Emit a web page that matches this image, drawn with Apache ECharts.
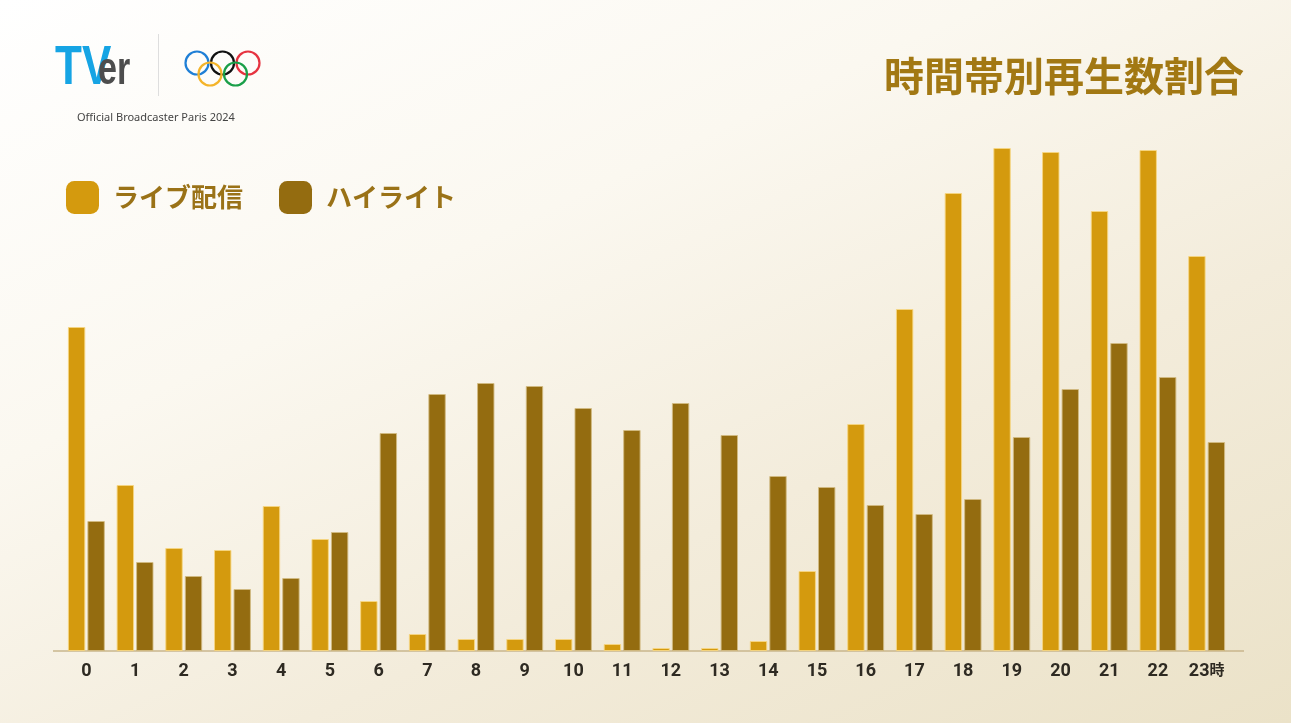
<!DOCTYPE html>
<html><head><meta charset="utf-8">
<script src="https://cdn.jsdelivr.net/npm/echarts@6/dist/echarts.min.js"></script>
<style>
html,body{margin:0;padding:0;width:1291px;height:723px;overflow:hidden;}
#c{width:1291px;height:723px;background:linear-gradient(155deg,#ffffff 0%,#fbf8f0 35%,#f3ecdb 65%,#ebe2c8 100%);}
</style></head>
<body><div id="c"></div>
<script>
const hours = ['0','1','2','3','4','5','6','7','8','9','10','11','12','13','14','15','16','17','18','19','20','21','22','23'];
const hourSuffix = '時';
const seriesNames = ['ライブ配信','ハイライト'];
const liveShare = [324,166,103,101,145,112,50,17,12,12,12,7,3,3,10,80,227,342,458,503,499,440,501,395];
const highlightShare = [130,89,75,62,73,119,218,257,268,265,243,221,248,216,175,164,146,137,152,214,262,308,274,209];
const titleText = '時間帯別再生数割合';
const subText = 'Official Broadcaster Paris 2024';

const chart = echarts.init(document.getElementById('c'), null, {renderer:'canvas'});
const cjk = '"Noto Sans CJK JP","Noto Sans",sans-serif';
const ringR = 11.5;
const rings = [
  {cx:197, cy:63, c:'#1f7fd6'},
  {cx:222.5, cy:63, c:'#111111'},
  {cx:248, cy:63, c:'#e63340'},
  {cx:210, cy:74, c:'#f4b42a'},
  {cx:235.5, cy:74, c:'#1a9f49'}
];
chart.setOption({
  backgroundColor:'transparent',
  animation:false,
  title:{text:titleText,right:42,top:51,textStyle:{fontFamily:cjk,fontSize:40,fontWeight:'bold',color:'#a27813'}},
  legend:{
    data:seriesNames,left:66,top:181,padding:0,icon:'roundRect',itemWidth:33,itemHeight:33,itemGap:36,
    itemStyle:{borderWidth:0},
    textStyle:{fontFamily:cjk,fontSize:26,fontWeight:'bold',color:'#9a7217',padding:[0,0,0,9]}
  },
  grid:{left:62,right:60,top:51,bottom:72},
  xAxis:{
    type:'category',data:hours,
    axisLine:{show:false},axisTick:{show:false},
    axisLabel:{
      interval:0,margin:11,
      formatter:(v,i)=> i===hours.length-1 ? '{n|'+v+'}{s|'+hourSuffix+'}' : '{n|'+v+'}',
      rich:{
        n:{fontFamily:'Roboto,"Noto Sans",sans-serif',fontSize:18,fontWeight:'bold',color:'#2e2a22'},
        s:{fontFamily:cjk,fontSize:15,fontWeight:'bold',color:'#2e2a22',padding:[0,0,4,0]}
      }
    }
  },
  yAxis:{type:'value',min:0,max:600,show:false,splitLine:{show:false}},
  series:[
    {name:seriesNames[0],type:'bar',data:liveShare,barWidth:17.4,barGap:'12%',
     itemStyle:{color:'#d49a0e',borderColor:'rgba(246,214,130,0.9)',borderWidth:1}},
    {name:seriesNames[1],type:'bar',data:highlightShare,barWidth:17.4,barGap:'12%',
     itemStyle:{color:'#946c10',borderColor:'rgba(210,186,130,0.9)',borderWidth:1}}
  ],
  graphic:[
    {type:'line',z:-1,shape:{x1:53,y1:651,x2:1244,y2:651},style:{stroke:'#c9b68c',lineWidth:1.5}},
    {type:'text',x:55,y:41,scaleX:0.8,style:{text:'TV',fontFamily:'"Liberation Sans",sans-serif',fontSize:55,fontWeight:'bold',fill:'#16a4e4'}},
    {type:'text',x:98,y:48,scaleX:0.74,style:{text:'er',fontFamily:'"Liberation Sans",sans-serif',fontSize:46,fontWeight:'bold',fill:'#4d4d4d'}},
    {type:'line',shape:{x1:158.5,y1:34,x2:158.5,y2:96},style:{stroke:'#dedede',lineWidth:1}},
    ...rings.map(r=>({type:'circle',shape:{cx:r.cx,cy:r.cy,r:ringR},style:{fill:'none',stroke:r.c,lineWidth:2.2}})),
    {type:'text',left:77,top:112,style:{text:subText,fontFamily:'"Noto Sans",sans-serif',fontSize:11,fill:'#444444'}}
  ]
});
</script></body></html>
